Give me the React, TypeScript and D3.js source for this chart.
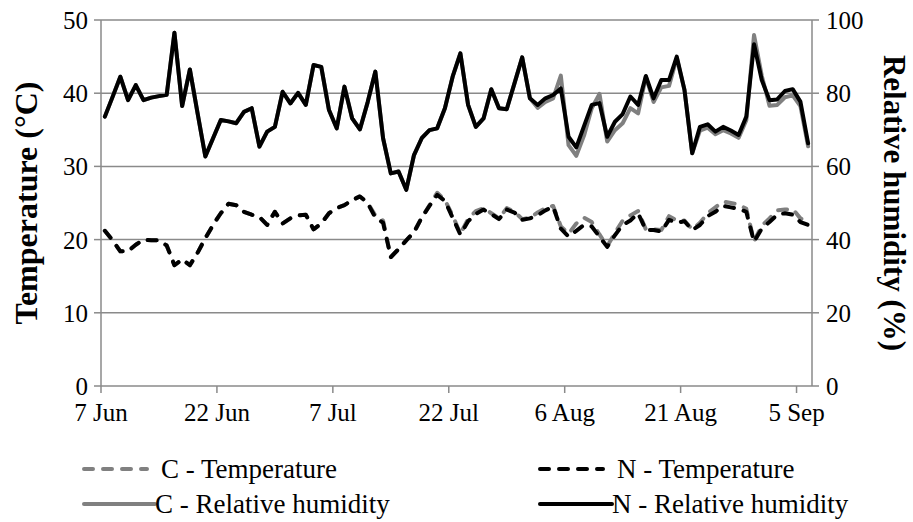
import React from "react";
import * as d3 from "d3";

// Daily readings, 7 Jun – 6 Sep
const startDate = "7 Jun 2013";
const tempC = [
  21.2, 19.9, 18.4, 18.4, 19.3, 20.0, 19.9, 19.9, 19.2, 16.5,
  17.3, 16.5, 18.2, 20.2, 22.0, 23.6, 24.9, 24.7, 23.8, 23.4,
  23.1, 22.0, 23.8, 22.2, 22.9, 23.3, 23.4, 21.4, 22.2, 23.6,
  24.3, 24.7, 25.4, 25.9, 25.0, 23.3, 22.6, 17.6, 18.7, 19.9,
  21.0, 23.0, 24.7, 26.4, 25.4, 23.3, 20.8, 22.8, 23.9, 24.3,
  23.6, 22.9, 24.3, 23.8, 22.8, 23.0, 23.7, 24.3, 24.6, 21.8,
  20.8, 22.2, 23.0, 22.4, 20.7, 19.1, 20.9, 22.6, 23.3, 23.9,
  21.4, 21.4, 21.3, 23.2, 22.6, 22.6, 21.4, 22.3, 23.6, 24.4,
  25.2, 25.0, 24.8, 24.2, 19.8, 21.9, 22.9, 24.0, 24.1, 24.2,
  22.9, 22.4,
];
const tempN = [
  21.2, 19.9, 18.4, 18.4, 19.3, 20.0, 19.9, 19.9, 19.2, 16.5,
  17.3, 16.5, 18.2, 20.2, 22.0, 23.6, 24.9, 24.7, 23.8, 23.4,
  23.1, 22.0, 23.8, 22.2, 22.9, 23.3, 23.4, 21.4, 22.2, 23.6,
  24.3, 24.7, 25.4, 25.9, 25.0, 23.0, 22.3, 17.6, 18.7, 19.9,
  21.0, 23.0, 24.6, 26.1, 25.3, 23.0, 20.7, 22.5, 23.5, 24.1,
  23.5, 22.8, 24.1, 23.7, 22.7, 22.9, 23.3, 24.0, 24.5, 21.5,
  20.4, 21.2, 22.0, 21.8, 20.4, 19.0, 20.6, 22.0, 22.6, 23.6,
  21.3, 21.3, 21.1, 22.7, 22.3, 22.5, 21.3, 22.0, 23.2, 23.8,
  24.6, 24.4, 24.2, 23.8, 19.7, 21.5, 22.4, 23.4, 23.6, 23.4,
  22.4, 22.0,
];
const rhC = [
  73.6, 79.0, 84.5, 78.1, 82.2, 78.1, 78.8, 79.2, 79.6, 96.5,
  76.5, 86.5, 74.5, 62.7, 67.7, 72.7, 72.3, 71.8, 74.9, 75.9,
  65.4, 69.5, 70.8, 80.4, 77.2, 80.1, 76.8, 87.7, 87.2, 75.4,
  70.4, 81.8, 73.1, 70.1, 77.5, 85.9, 67.7, 58.1, 58.6, 53.6,
  63.1, 67.7, 69.9, 70.4, 75.9, 84.5, 90.9, 76.8, 70.8, 73.1,
  81.1, 75.9, 75.6, 82.7, 89.8, 78.6, 76.0, 77.6, 78.6, 84.8,
  65.8, 62.9, 68.4, 75.9, 79.8, 66.8, 69.9, 71.8, 75.9, 74.5,
  84.5, 77.6, 81.6, 82.0, 89.6, 80.9, 63.6, 69.8, 70.6, 68.8,
  69.9, 69.0, 67.8, 72.6, 95.9, 84.8, 76.6, 76.8, 78.9, 79.4,
  76.5, 65.5,
];
const rhN = [
  73.6, 79.0, 84.5, 78.1, 82.2, 78.1, 78.8, 79.2, 79.6, 96.5,
  76.5, 86.5, 74.5, 62.7, 67.7, 72.7, 72.3, 71.8, 74.9, 75.9,
  65.4, 69.5, 70.8, 80.4, 77.2, 80.1, 76.8, 87.7, 87.2, 75.4,
  70.4, 81.8, 73.1, 70.1, 77.5, 85.9, 67.7, 58.1, 58.6, 53.6,
  63.1, 67.7, 69.9, 70.4, 75.9, 84.5, 90.9, 76.8, 70.8, 73.1,
  81.1, 75.9, 75.6, 82.7, 89.8, 78.6, 76.8, 78.6, 79.5, 81.3,
  68.1, 65.2, 71.0, 76.8, 77.3, 68.1, 72.2, 74.3, 79.1, 76.8,
  84.7, 78.6, 83.6, 83.6, 90.0, 80.9, 63.6, 70.8, 71.5, 69.5,
  70.8, 69.8, 68.6, 73.6, 93.4, 83.6, 78.1, 78.3, 80.6, 81.1,
  77.7, 66.3,
];
const dateTicks = ["7 Jun", "22 Jun", "7 Jul", "22 Jul", "6 Aug", "21 Aug", "5 Sep"];
const tempTicks = [0, 10, 20, 30, 40, 50];
const rhTicks = [0, 20, 40, 60, 80, 100];

const parse = d3.utcParse("%d %b %Y");
const day0 = parse(startDate) as Date;
const dayAt = (i: number) => d3.utcDay.offset(day0, i);
const noon = (i: number) => d3.utcHour.offset(dayAt(i), 12);

const W = 913;
const H = 522;
const left = 101;
const right = 812;
const top = 20;
const bottom = 386;

const x = d3.scaleUtc().domain([day0, dayAt(tempN.length)]).range([left, right]);
const yT = d3.scaleLinear().domain([0, 50]).range([bottom, top]);
const yRH = d3.scaleLinear().domain([0, 100]).range([bottom, top]);

const FONT = "Liberation Serif, Tinos, Times New Roman, DejaVu Serif, serif";
const GRID = "#8a8a8a";
const GREY = "#808080";

function path(vals: number[], y: d3.ScaleLinear<number, number>) {
  return d3
    .line<number>()
    .x((_, i) => x(noon(i)))
    .y((v) => y(v))(vals) as string;
}

const series = [
  { name: "C - Temperature", vals: tempC, y: yT, color: GREY, dash: "9 10" },
  { name: "N - Temperature", vals: tempN, y: yT, color: "#000", dash: "9 10" },
  { name: "C - Relative humidity", vals: rhC, y: yRH, color: GREY, dash: undefined },
  { name: "N - Relative humidity", vals: rhN, y: yRH, color: "#000", dash: undefined },
];

const legendPos = [
  { x: 84, y: 469, len: 63, tx: 161 },
  { x: 540, y: 469, len: 63, tx: 617 },
  { x: 84, y: 504, len: 71, tx: 155 },
  { x: 540, y: 504, len: 72, tx: 612 },
];

const textStyle = { fontFamily: FONT };

export default function App() {
  return (
    <div style={{ position: "fixed", left: 0, top: 0 }}>
      <svg width={W} height={H} style={{ display: "block", background: "#fff" }}>
        {/* gridlines */}
        {tempTicks.slice(1).map((t) => (
          <line key={t} x1={left} x2={right} y1={yT(t)} y2={yT(t)} stroke={GRID} strokeWidth={1.5} />
        ))}
        {/* axes */}
        <line x1={left} x2={left} y1={top} y2={bottom} stroke={GRID} strokeWidth={1.5} />
        <line x1={right} x2={right} y1={top} y2={bottom} stroke={GRID} strokeWidth={1.5} />
        <line x1={left} x2={right} y1={bottom} y2={bottom} stroke={GRID} strokeWidth={1.5} />
        {tempTicks.map((t) => (
          <g key={"l" + t}>
            <line x1={left - 7} x2={left} y1={yT(t)} y2={yT(t)} stroke={GRID} strokeWidth={1.5} />
            <text x={88} y={yT(t) + 9} textAnchor="end" style={textStyle} fontSize={25}>
              {t}
            </text>
          </g>
        ))}
        {rhTicks.map((t) => (
          <g key={"r" + t}>
            <line x1={right} x2={right + 7} y1={yRH(t)} y2={yRH(t)} stroke={GRID} strokeWidth={1.5} />
            <text x={826} y={yRH(t) + 9} textAnchor="start" style={textStyle} fontSize={25}>
              {t}
            </text>
          </g>
        ))}
        {dateTicks.map((lbl) => {
          const d = parse(lbl + " 2013") as Date;
          const px = x(d);
          return (
            <g key={lbl}>
              <line x1={px} x2={px} y1={bottom} y2={bottom + 7} stroke={GRID} strokeWidth={1.5} />
              <text x={px} y={421} textAnchor="middle" style={textStyle} fontSize={25}>
                {lbl}
              </text>
            </g>
          );
        })}
        {/* axis titles */}
        <text
          transform={`translate(37,${(top + bottom) / 2}) rotate(-90)`}
          textAnchor="middle"
          style={textStyle}
          fontSize={32}
          fontWeight="bold"
        >
          Temperature (°C)
        </text>
        <text
          transform={`translate(884,${(top + bottom) / 2}) rotate(90)`}
          textAnchor="middle"
          style={textStyle}
          fontSize={31}
          fontWeight="bold"
        >
          Relative humidity (%)
        </text>
        {/* series */}
        {series.map((s) => (
          <path
            key={s.name}
            d={path(s.vals, s.y)}
            fill="none"
            stroke={s.color}
            strokeWidth={4}
            strokeLinejoin="round"
            strokeLinecap="round"
            strokeDasharray={s.dash}
          />
        ))}
        {/* legend */}
        {series.map((s, i) => {
          const p = legendPos[i];
          return (
            <g key={"lg" + s.name}>
              <line
                x1={p.x}
                x2={p.x + p.len}
                y1={p.y}
                y2={p.y}
                stroke={s.color}
                strokeWidth={4}
                strokeLinecap="round"
                strokeDasharray={s.dash}
              />
              <text x={p.tx} y={p.y + 9} style={textStyle} fontSize={27}>
                {s.name}
              </text>
            </g>
          );
        })}
      </svg>
    </div>
  );
}
